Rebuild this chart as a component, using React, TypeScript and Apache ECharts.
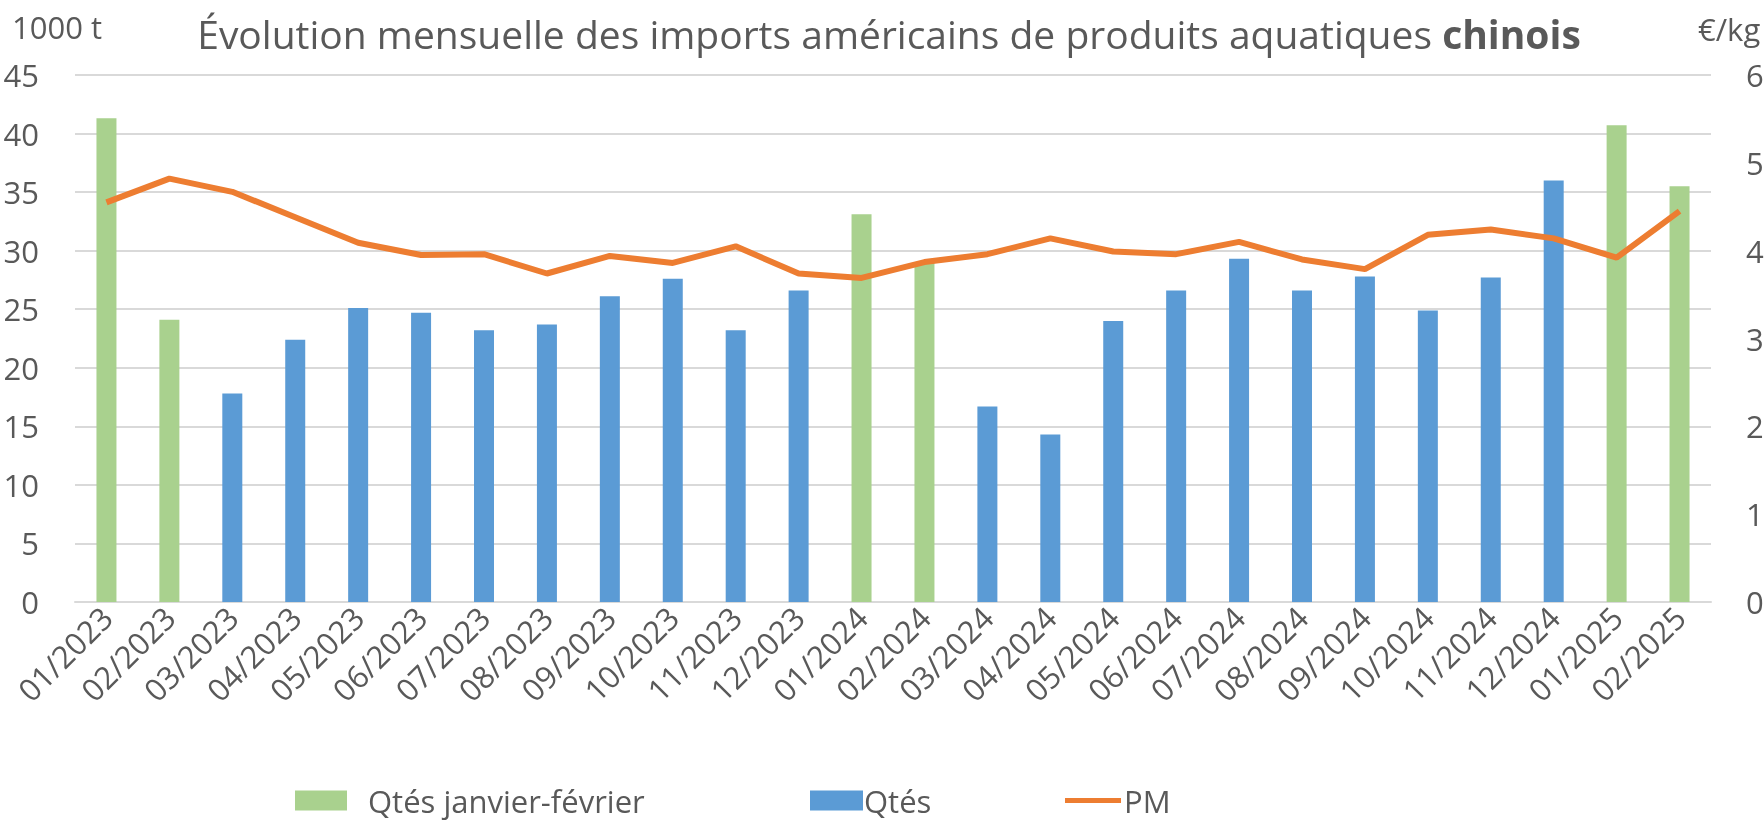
import React, { useEffect, useRef } from "react";
import * as echarts from "echarts";

const months = [
  "01/2023", "02/2023", "03/2023", "04/2023", "05/2023", "06/2023", "07/2023", "08/2023",
  "09/2023", "10/2023", "11/2023", "12/2023", "01/2024", "02/2024", "03/2024", "04/2024",
  "05/2024", "06/2024", "07/2024", "08/2024", "09/2024", "10/2024", "11/2024", "12/2024",
  "01/2025", "02/2025",
];

// Quantities Jan-Feb (1000 t)
const qtesJanFev = [
  41.3, 24.1, null, null, null, null, null, null, null, null, null, null,
  33.1, 29.0, null, null, null, null, null, null, null, null, null, null,
  40.7, 35.5,
];

// Other months quantities (1000 t)
const qtes = [
  null, null, 17.8, 22.4, 25.1, 24.7, 23.2, 23.7, 26.1, 27.6, 23.2, 26.6,
  null, null, 16.7, 14.3, 24.0, 26.6, 29.3, 26.6, 27.8, 24.9, 27.7, 36.0,
  null, null,
];

// Average price (€/kg)
const pm = [
  4.55, 4.82, 4.67, 4.38, 4.09, 3.95, 3.96, 3.74, 3.94, 3.86, 4.05, 3.74,
  3.69, 3.87, 3.96, 4.14, 3.99, 3.96, 4.10, 3.90, 3.79, 4.18, 4.24, 4.14,
  3.92, 4.45,
];

const leftTicks = { min: 0, max: 45, interval: 5 };
const rightTicks = { min: 0, max: 6, interval: 1 };

const FONT = "'Open Sans'";
const TXT = "#595959";
const GRID = "#d9d9d9";
const FS = 31;

export default function App() {
  const ref = useRef<HTMLDivElement>(null);
  useEffect(() => {
    document.body.style.margin = "0";
    const chart = echarts.init(ref.current!, null, { renderer: "svg" });
    const legendText = {
      fontFamily: FONT,
      fontSize: FS,
      color: TXT,
      lineHeight: 30,
    };
    chart.setOption({
      animation: false,
      textStyle: { fontFamily: FONT, color: TXT },
      title: [
        {
          text: "Évolution mensuelle des imports américains de produits aquatiques {b|chinois}",
          left: 884,
          textAlign: "center",
          top: 9,
          textStyle: {
            fontFamily: FONT,
            fontSize: 39,
            fontWeight: "normal",
            color: TXT,
            rich: { b: { fontFamily: FONT, fontSize: 39, fontWeight: "bold", color: TXT } },
          },
        },
        {
          text: "1000 t",
          left: 7,
          top: 6,
          textStyle: { fontFamily: FONT, fontSize: FS, fontWeight: "normal", color: TXT },
        },
        {
          text: "€/kg",
          left: 1693,
          top: 8,
          textStyle: { fontFamily: FONT, fontSize: FS, fontWeight: "normal", color: TXT },
        },
      ],
      legend: [
        {
          data: ["Qtés janvier-février"],
          left: 293,
          top: 783,
          itemWidth: 52,
          itemHeight: 20,
          icon: "rect",
          padding: 2,
          textStyle: { ...legendText, padding: [0, 0, 0, 16] },
        },
        {
          data: ["Qtés"],
          left: 808,
          top: 783,
          itemWidth: 53,
          itemHeight: 20,
          icon: "rect",
          padding: 2,
          textStyle: { ...legendText, padding: [0, 0, 0, -4] },
        },
        {
          data: ["PM"],
          left: 1063,
          top: 783,
          itemWidth: 56,
          itemHeight: 5,
          icon: "rect",
          padding: 2,
          textStyle: { ...legendText, padding: [0, 0, 0, -2] },
        },
      ],
      grid: { left: 75, right: 53, top: 75, bottom: 218, containLabel: false, outerBoundsMode: "none" },
      xAxis: {
        type: "category",
        data: months,
        axisLine: { lineStyle: { color: GRID, width: 2 } },
        axisTick: { show: false },
        axisLabel: {
          rotate: 45,
          interval: 0,
          margin: 10,
          fontFamily: FONT,
          fontSize: FS,
          color: TXT,
        },
      },
      yAxis: [
        {
          type: "value",
          ...leftTicks,
          axisLine: { show: false },
          axisTick: { show: false },
          splitLine: { lineStyle: { color: GRID, width: 2 } },
          axisLabel: { fontFamily: FONT, fontSize: FS, color: TXT, margin: 36 },
        },
        {
          type: "value",
          ...rightTicks,
          position: "right",
          axisLine: { show: false },
          axisTick: { show: false },
          splitLine: { show: false },
          axisLabel: { fontFamily: FONT, fontSize: FS, color: TXT, margin: 35 },
        },
      ],
      series: [
        {
          name: "Qtés janvier-février",
          type: "bar",
          data: qtesJanFev,
          barWidth: 20,
          barGap: "-100%",
          itemStyle: { color: "#A9D18E" },
        },
        {
          name: "Qtés",
          type: "bar",
          data: qtes,
          barWidth: 20,
          barGap: "-100%",
          itemStyle: { color: "#5B9BD5" },
        },
        {
          name: "PM",
          type: "line",
          yAxisIndex: 1,
          data: pm,
          symbol: "none",
          z: 5,
          lineStyle: { color: "#ED7D31", width: 6 },
          itemStyle: { color: "#ED7D31" },
        },
      ],
    });
    return () => chart.dispose();
  }, []);
  return (
    <div
      ref={ref}
      style={{ position: "fixed", left: 0, top: 0, width: 1764, height: 820 }}
    />
  );
}
